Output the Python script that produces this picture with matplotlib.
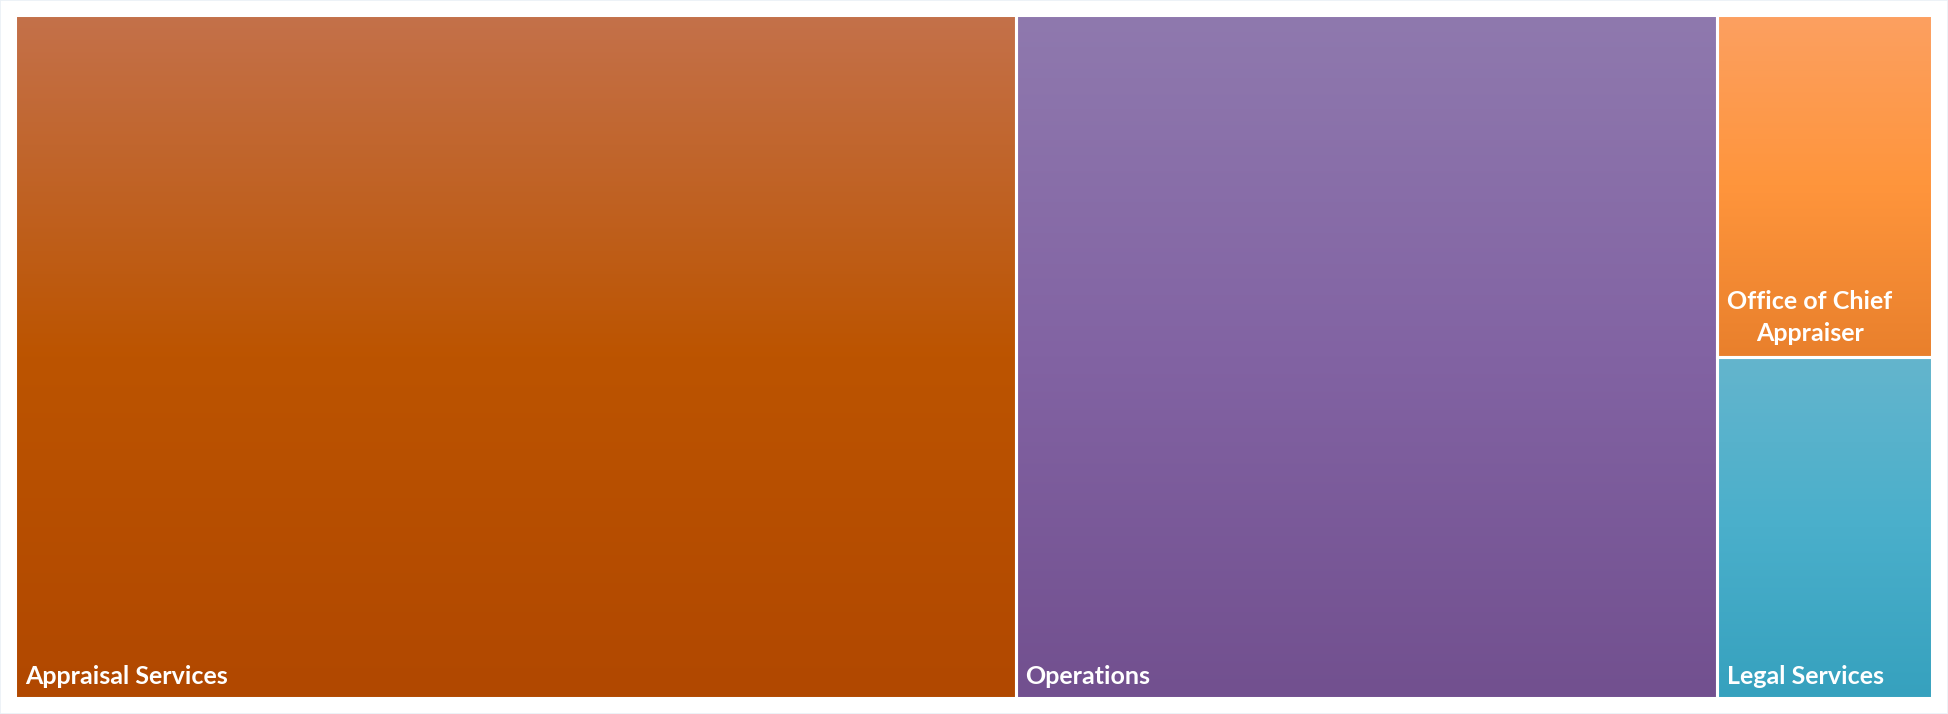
import matplotlib.pyplot as plt
import numpy as np
from matplotlib.colors import LinearSegmentedColormap
from matplotlib.patches import Rectangle

# Share of the total for each division
divisions = ['Appraisal Services', 'Operations', 'Office of Chief\nAppraiser', 'Legal Services']
shares = [52.2, 36.6, 5.6, 5.6]

# Vertical gradient per tile: top, middle, bottom
tile_colors = [
    ['#C4714A', '#BC5400', '#B14800'],
    ['#8F79AE', '#8263A3', '#72508F'],
    ['#FCA061', '#FF953C', '#E9802C'],
    ['#64B5CD', '#4AAFCB', '#36A1BE'],
]

W, H = 1916.0, 683.0


def worst(row, side):
    s = sum(row)
    return max(max(side * side * r / (s * s), s * s / (side * side * r)) for r in row)


def squarify(vals, x, y, w, h):
    # squarified treemap layout, values already scaled to areas
    rects = []
    vals = list(vals)
    while vals:
        side = min(w, h)
        row = [vals.pop(0)]
        while vals and worst(row + [vals[0]], side) <= worst(row, side):
            row.append(vals.pop(0))
        s = sum(row)
        if w >= h:
            rw = s / h
            yy = y
            for r in row:
                rh = r / rw
                rects.append((x, yy, rw, rh))
                yy += rh
            x += rw
            w -= rw
        else:
            rh = s / w
            xx = x
            for r in row:
                rw = r / rh
                rects.append((xx, y, rw, rh))
                xx += rw
            y += rh
            h -= rh
    return rects


total = sum(shares)
areas = [v / total * W * H for v in shares]
rects = squarify(areas, 0, 0, W, H)

fig = plt.figure(figsize=(19.48, 7.14), dpi=100)
fig.patch.set_facecolor('white')
ax = fig.add_axes([15 / 1948, 16 / 714, 1917 / 1948, 683 / 714])
ax.set_xlim(0, W)
ax.set_ylim(H, 0)
ax.axis('off')

grad = np.linspace(0, 1, 256).reshape(-1, 1)
for (x, y, w, h), cols, name in zip(rects, tile_colors, divisions):
    cmap = LinearSegmentedColormap.from_list('tile', cols)
    ax.imshow(grad, cmap=cmap, aspect='auto', extent=(x, x + w, y + h, y),
              interpolation='bilinear', zorder=1)
    ax.add_patch(Rectangle((x, y), w, h, fill=False, edgecolor='white',
                           linewidth=2.2, zorder=2))
    if '\n' in name:
        ax.annotate(name, xy=(x, y + h), xytext=(7, 8), textcoords='offset points',
                    ha='left', va='bottom', multialignment='center',
                    color='white', fontsize=18, fontweight='bold', family='Lato',
                    linespacing=1.5, zorder=3)
    else:
        ax.annotate(name, xy=(x, y + h), xytext=(7, 9.8), textcoords='offset points',
                    ha='left', va='baseline', color='white', fontsize=18,
                    fontweight='bold', family='Lato', zorder=3)

ax.set_xlim(0, W)
ax.set_ylim(H, 0)

# faint chart border
fig.add_artist(Rectangle((0, 0), 1, 1, transform=fig.transFigure, fill=False,
                         edgecolor='#EAF0F6', linewidth=1.2))

fig.savefig('out.png', dpi=100, facecolor='white')
